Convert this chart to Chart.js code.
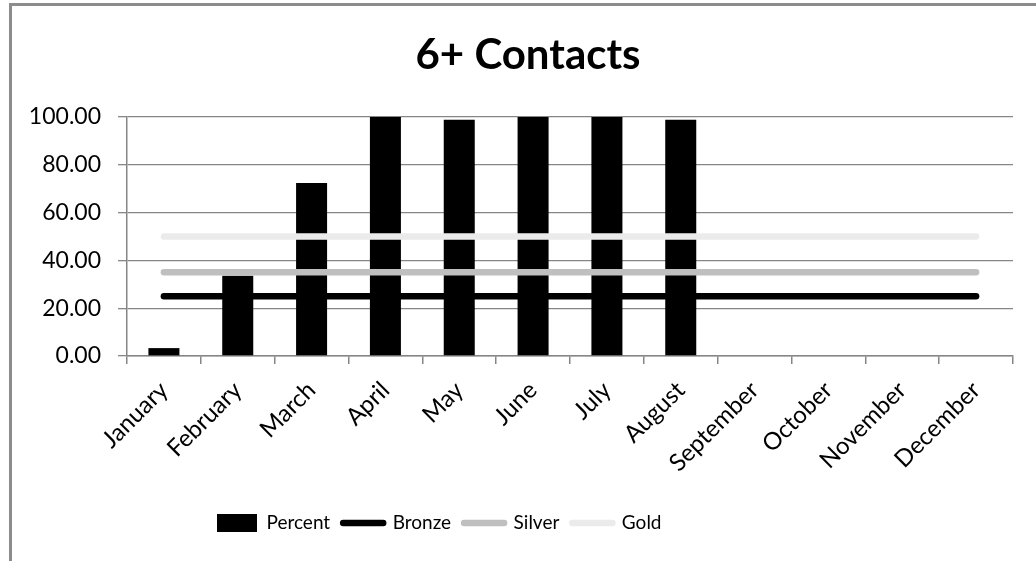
<!DOCTYPE html>
<html><head><meta charset="utf-8">
<script src="https://cdn.jsdelivr.net/npm/chart.js@4.4.1/dist/chart.umd.min.js"></script>
<style>
html,body{margin:0;padding:0;background:#fff;overflow:hidden}
#wrap{position:relative;width:1036px;height:561px}
canvas{display:block}
</style></head><body>
<div id="wrap"><canvas id="c" width="1036" height="561"></canvas></div>
<script>
const months = ['January','February','March','April','May','June','July','August','September','October','November','December'];
const percent = [3.3, 33.6, 72.4, 100, 98.9, 100, 100, 98.9, null, null, null, null];
const bronze = [25, 25, 25, 25, 25, 25, 25, 25, 25, 25, 25, 25];
const silver = [35, 35, 35, 35, 35, 35, 35, 35, 35, 35, 35, 35];
const gold = [50, 50, 50, 50, 50, 50, 50, 50, 50, 50, 50, 50];
const yTicks = [0, 20, 40, 60, 80, 100];

const FONT = 'Lato';
const GRID = '#868686';

const framePlugin = {
  id: 'frame',
  beforeDraw(chart) {
    const ctx = chart.ctx;
    ctx.save();
    ctx.fillStyle = '#fff';
    ctx.fillRect(0, 0, chart.width, chart.height);
    ctx.strokeStyle = '#8c8c8c';
    ctx.lineWidth = 3;
    ctx.strokeRect(10.5, 4.5, 1200, 800);
    ctx.restore();
  },
  afterLayout(chart) {
    const lg = chart.legend;
    if (lg) {
      const pad = lg.options.labels.padding;
      const dx = 217 - (lg.left + pad);
      lg.left += dx; lg.right += dx;
      const fs = lg.options.labels.font.size;
      const dy = (523 - pad - fs / 2) - lg.top;
      lg.top += dy; lg.bottom += dy;
    }
    const tb = chart.titleBlock;
    if (tb) {
      const tdx = 528 - (tb.left + tb.right) / 2;
      tb.left += tdx; tb.right += tdx;
    }
  }
};

new Chart(document.getElementById('c'), {
  data: {
    labels: months,
    datasets: [
      { type: 'bar', label: 'Percent', data: percent, backgroundColor: '#000', borderColor: '#000', borderWidth: 0,
        barPercentage: 0.42, categoryPercentage: 1.0, order: 5 },
      { type: 'line', label: 'Bronze', data: bronze, borderColor: '#000', backgroundColor: '#000', borderWidth: 6.5,
        pointRadius: 0, borderCapStyle: 'round', fill: false, tension: 0, order: 3 },
      { type: 'line', label: 'Silver', data: silver, borderColor: '#bfbfbf', backgroundColor: '#bfbfbf', borderWidth: 6.5,
        pointRadius: 0, borderCapStyle: 'round', fill: false, tension: 0, order: 2 },
      { type: 'line', label: 'Gold', data: gold, borderColor: '#ebebeb', backgroundColor: '#ebebeb', borderWidth: 6.5,
        pointRadius: 0, borderCapStyle: 'round', fill: false, tension: 0, order: 1 }
    ]
  },
  options: {
    responsive: false,
    animation: false,
    devicePixelRatio: 1,
    layout: { padding: { top: 30, left: 0, right: 23, bottom: 0 } },
    plugins: {
      tooltip: { enabled: false },
      title: {
        display: true, text: '6+ Contacts', color: '#000',
        font: { family: FONT, size: 42, weight: 'bold', lineHeight: 1.2 },
        padding: { top: 0, bottom: 36.6 }
      },
      legend: {
        display: true, position: 'bottom', align: 'start',
        labels: {
          color: '#000', font: { family: FONT, size: 19 }, padding: 13,
          usePointStyle: true, pointStyleWidth: 40, boxHeight: 18,
          generateLabels(chart) {
            return chart.data.datasets.map((ds, i) => ({
              text: ds.label,
              fillStyle: ds.backgroundColor,
              strokeStyle: ds.borderColor,
              lineWidth: i === 0 ? 0 : 6.5,
              lineCap: 'round',
              pointStyle: i === 0 ? 'rect' : 'line',
              hidden: false,
              datasetIndex: i,
              fontColor: '#000'
            }));
          }
        }
      }
    },
    scales: {
      x: {
        offset: true,
        grid: { display: true, offset: true, drawOnChartArea: false, drawTicks: true, tickLength: 8, color: GRID, lineWidth: 1.5 },
        border: { display: true, color: GRID, width: 1.5 },
        ticks: { color: '#000', font: { family: FONT, size: 24 }, minRotation: 45, maxRotation: 45, autoSkip: false, padding: 12 },
        afterFit(s) {
          const lg = s.chart.legend;
          s.height = s.chart.height - (lg ? lg.height : 0) - 356;
        }
      },
      y: {
        min: 0, max: 100,
        afterBuildTicks(s) { s.ticks = yTicks.map(v => ({ value: v })); },
        grid: { color: GRID, lineWidth: 1.3, tickLength: 9, drawTicks: true },
        border: { display: true, color: GRID, width: 1.5 },
        ticks: { color: '#000', font: { family: FONT, size: 23 }, padding: 17, callback: v => Number(v).toFixed(2) },
        afterFit(s) { s.width = 127; }
      }
    }
  },
  plugins: [framePlugin]
});
</script>
</body></html>
